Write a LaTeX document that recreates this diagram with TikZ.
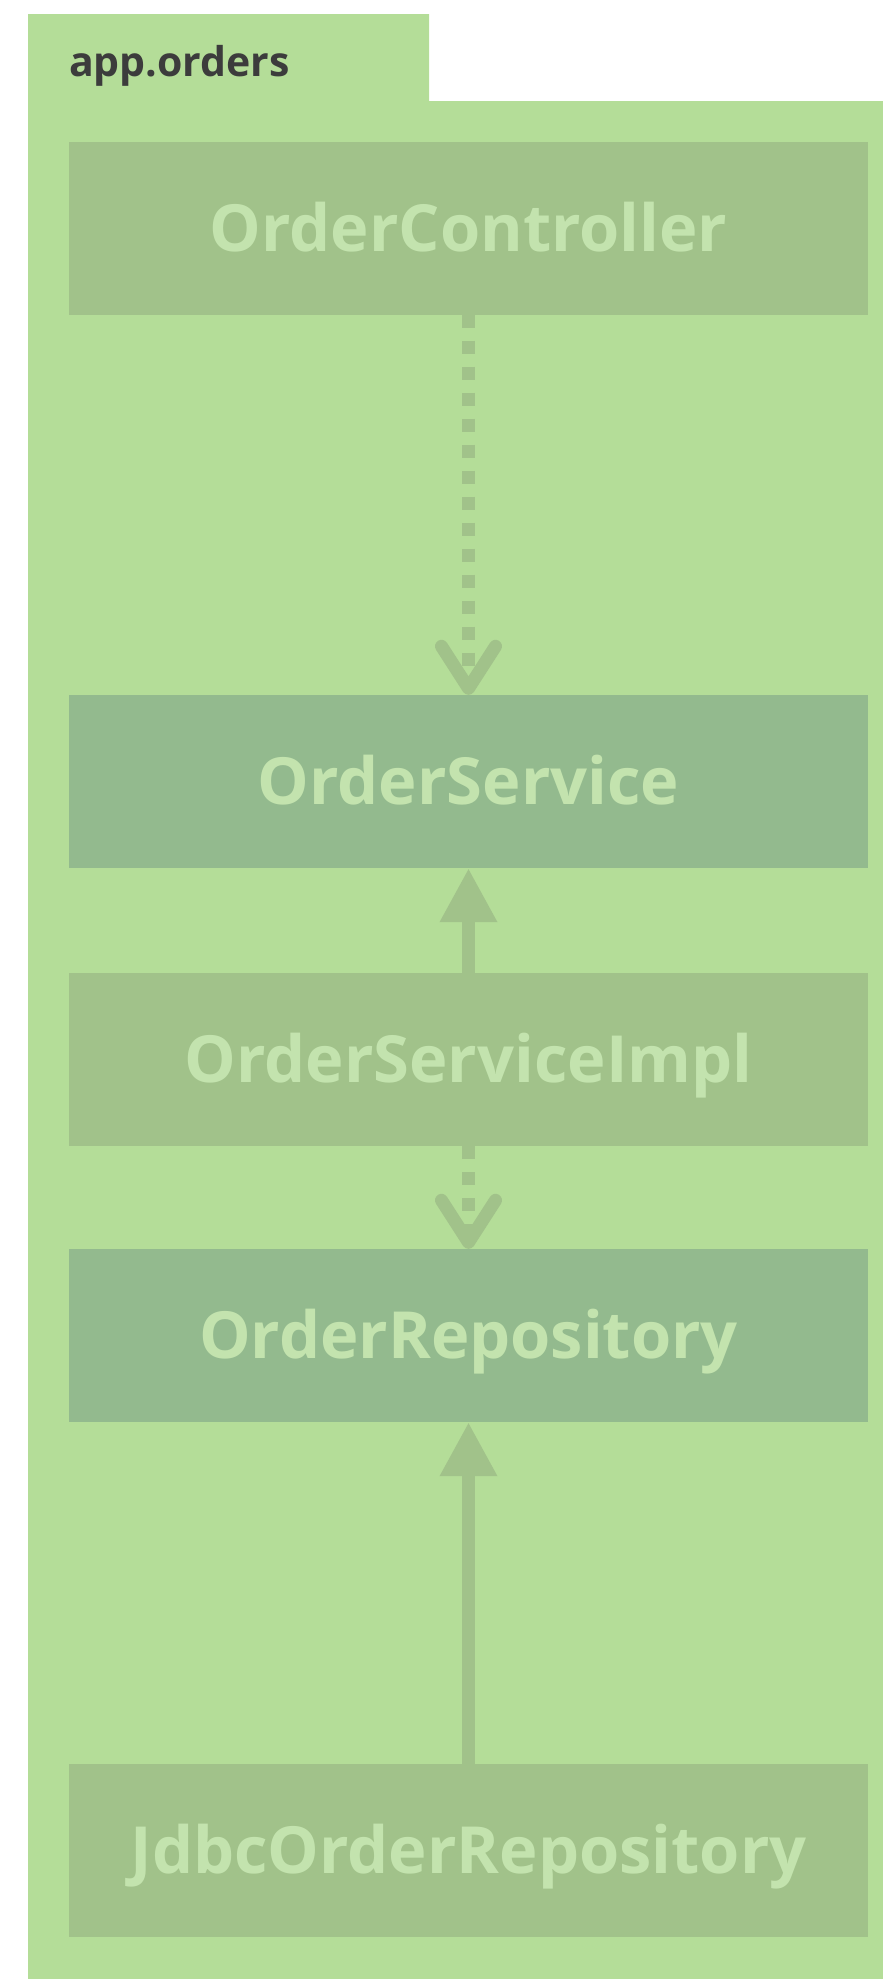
\documentclass[tikz,border=0pt]{standalone}
\usepackage{fontspec}
\setmainfont{Open Sans}
\usetikzlibrary{arrows.meta}
\definecolor{pkggreen}{HTML}{B4DD98}
\definecolor{classgreen}{HTML}{A1C28A}
\definecolor{ifacegreen}{HTML}{93BA8E}
\definecolor{labelgreen}{HTML}{C3E3AE}
\definecolor{pkgtext}{HTML}{3C3C3C}

\begin{document}
\begin{tikzpicture}[x=1pt, y=-1pt,
  box/.style={minimum width=799pt, minimum height=173pt, inner sep=0pt,
    text=labelgreen, font=\fontsize{65}{78}\selectfont\bfseries,
    text height=46pt, text depth=0pt},
  classbox/.style={box, fill=classgreen},
  ifacebox/.style={box, fill=ifacegreen},
  uses/.style={classgreen, line width=13pt, dash pattern=on 13pt off 13pt,
    -{Straight Barb[length=42pt, width=54pt, round]}},
  realizes/.style={classgreen, line width=13pt,
    -{Triangle[length=54pt, width=54pt]}}]
  \useasboundingbox (0,0) rectangle (883,1979);
  \clip (0,0) rectangle (883,1979);
  % package frame with tab
  \fill[pkggreen] (28,14) -- (429,14) -- (429,101) -- (910,101)
    -- (910,1990) -- (28,1990) -- cycle;
  \node[anchor=base west, inner sep=0pt, text=pkgtext,
    font=\fontsize{41}{49}\selectfont\bfseries] (pkglabel) at (69,76) {app.orders};
  % classes
  \foreach \n/\y/\s/\t in {ctrl/228/classbox/OrderController,
      svc/781.5/ifacebox/OrderService,
      impl/1059.5/classbox/OrderServiceImpl,
      repo/1335.5/ifacebox/OrderRepository,
      jdbc/1850.5/classbox/JdbcOrderRepository}
    \node[\s] (\n) at (468.5,\y) {\t};
  % dependencies
  \draw[uses] (ctrl) -- (svc);
  \draw[uses] (impl) -- (repo);
  % realizations
  \draw[realizes] (impl) -- (svc);
  \draw[realizes] (jdbc) -- (repo);
\end{tikzpicture}
\end{document}
